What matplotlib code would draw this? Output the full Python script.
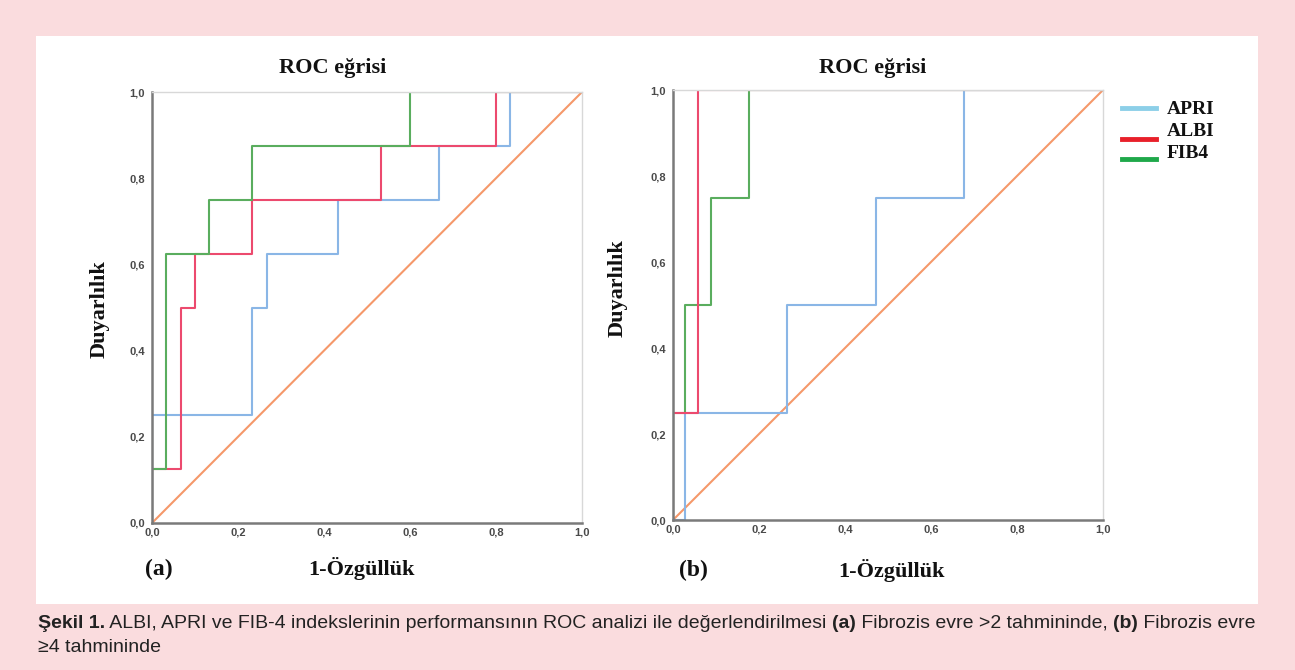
import matplotlib
matplotlib.use('Agg')
import matplotlib.pyplot as plt
from matplotlib.patches import Rectangle
from matplotlib.lines import Line2D

# ROC curve corner points (1-specificity, sensitivity)
# (a) Fibrozis evre >2
apri_a_x = [0, 0, 0.233, 0.233, 0.267, 0.267, 0.433, 0.433, 0.667, 0.667, 0.833, 0.833, 1]
apri_a_y = [0, 0.25, 0.25, 0.5, 0.5, 0.625, 0.625, 0.75, 0.75, 0.875, 0.875, 1, 1]
albi_a_x = [0, 0, 0.067, 0.067, 0.1, 0.1, 0.233, 0.233, 0.533, 0.533, 0.8, 0.8, 1]
albi_a_y = [0, 0.125, 0.125, 0.5, 0.5, 0.625, 0.625, 0.75, 0.75, 0.875, 0.875, 1, 1]
fib4_a_x = [0, 0, 0.033, 0.033, 0.133, 0.133, 0.233, 0.233, 0.6, 0.6, 1]
fib4_a_y = [0, 0.125, 0.125, 0.625, 0.625, 0.75, 0.75, 0.875, 0.875, 1, 1]

# (b) Fibrozis evre >=4
apri_b_x = [0, 0.029, 0.029, 0.265, 0.265, 0.471, 0.471, 0.676, 0.676, 1]
apri_b_y = [0, 0, 0.25, 0.25, 0.5, 0.5, 0.75, 0.75, 1, 1]
albi_b_x = [0, 0, 0.059, 0.059, 1]
albi_b_y = [0, 0.25, 0.25, 1, 1]
fib4_b_x = [0, 0, 0.029, 0.029, 0.088, 0.088, 0.176, 0.176, 1]
fib4_b_y = [0, 0.25, 0.25, 0.5, 0.5, 0.75, 0.75, 1, 1]

ticks = [0, 0.2, 0.4, 0.6, 0.8, 1.0]
tick_labels = ['0,0', '0,2', '0,4', '0,6', '0,8', '1,0']

c_apri = '#8ab6e6'
c_albi = '#ec4a6e'
c_fib4 = '#5aad5e'
c_ref = '#f5986a'

W, H = 1295, 670
fig = plt.figure(figsize=(W / 100, H / 100), dpi=100, facecolor='#fadcde')
fig.patches.append(Rectangle((36 / W, 1 - 604 / H), (1258 - 36) / W, (604 - 36) / H,
                             transform=fig.transFigure, facecolor='white',
                             edgecolor='none', zorder=-5))


def px(x, y):
    return x / W, 1 - y / H


def roc_panel(rect, curves):
    ax = fig.add_axes(rect)
    ax.set_zorder(2)
    ax.plot([0, 1], [0, 1], color=c_ref, lw=1.5, zorder=1)
    for xs, ys, col in curves:
        ax.plot(xs, ys, color=col, lw=1.5, zorder=2)
    ax.set_xlim(0, 1)
    ax.set_ylim(0, 1)
    ax.set_xticks(ticks)
    ax.set_yticks(ticks)
    ax.set_xticklabels(tick_labels)
    ax.set_yticklabels(tick_labels)
    ax.tick_params(length=0, labelsize=8, labelcolor='#4a4a4a')
    ax.tick_params(axis='y', pad=5)
    ax.tick_params(axis='x', pad=3)
    for lab in ax.get_xticklabels() + ax.get_yticklabels():
        lab.set_fontfamily('Liberation Sans')
        lab.set_fontweight('bold')
    for s in ['left', 'bottom']:
        ax.spines[s].set_color('#7a7a7a')
        ax.spines[s].set_linewidth(1.8)
    for s in ['top', 'right']:
        ax.spines[s].set_color('#d8d8d8')
        ax.spines[s].set_linewidth(1.0)
    return ax


ax_a = roc_panel([152 / W, 1 - 523 / H, 430 / W, 431 / H],
                 [(apri_a_x, apri_a_y, c_apri), (albi_a_x, albi_a_y, c_albi),
                  (fib4_a_x, fib4_a_y, c_fib4)])
ax_b = roc_panel([673 / W, 1 - 520 / H, 430 / W, 430 / H],
                 [(apri_b_x, apri_b_y, c_apri), (fib4_b_x, fib4_b_y, c_fib4),
                  (albi_b_x, albi_b_y, c_albi)])

serif = dict(family='Liberation Serif', weight='bold', color='#111111')
fig.text(*px(333, 68), 'ROC eğrisi', ha='center', va='center', fontsize=16, **serif)
fig.text(*px(873, 68), 'ROC eğrisi', ha='center', va='center', fontsize=16, **serif)
fig.text(*px(100, 309), 'Duyarlılık', ha='center', va='center', rotation=90, fontsize=16, **serif)
fig.text(*px(618, 288), 'Duyarlılık', ha='center', va='center', rotation=90, fontsize=16, **serif)
fig.text(*px(362, 569), '1-Özgüllük', ha='center', va='center', fontsize=16, **serif)
fig.text(*px(892, 570), '1-Özgüllük', ha='center', va='center', fontsize=16, **serif)
fig.text(*px(159, 569), '(a)', ha='center', va='center', fontsize=17, **serif)
fig.text(*px(693, 570), '(b)', ha='center', va='center', fontsize=17, **serif)

# legend on the right
leg_names = ['APRI', 'ALBI', 'FIB4']
leg_colors = ['#8ccfe8', '#e8202a', '#1fa84a']
leg_line_y = [108, 139, 159]
leg_text_y = [109, 131, 153]
for name, col, ly, ty in zip(leg_names, leg_colors, leg_line_y, leg_text_y):
    fig.add_artist(Line2D([1122 / W, 1156 / W], [1 - ly / H, 1 - ly / H],
                          transform=fig.transFigure, color=col, lw=3.5))
    fig.text(*px(1167, ty), name, ha='left', va='center', fontsize=14, **serif)

# caption with mixed bold / regular pieces
line1 = [('Şekil 1.', 'bold'),
         (' ALBI, APRI ve FIB-4 indekslerinin performansının ROC analizi ile değerlendirilmesi ', 'normal'),
         ('(a)', 'bold'), (' Fibrozis evre >2 tahmininde, ', 'normal'),
         ('(b)', 'bold'), (' Fibrozis evre', 'normal')]
line2 = [('≥4 tahmininde', 'normal')]

renderer = fig.canvas.get_renderer()


def draw_line(pieces, x0, y0, size):
    x = x0
    arts = []
    for txt, wt in pieces:
        t = fig.text(x / W, 1 - y0 / H, txt, ha='left', va='baseline', fontsize=size,
                     family=['Liberation Sans', 'DejaVu Sans'], weight=wt,
                     color='#222222')
        bb = t.get_window_extent(renderer)
        x += bb.width
        arts.append(t)
    return x, arts


size = 11
for _ in range(3):
    end, arts = draw_line(line1, 38, 628, size)
    for a in arts:
        a.remove()
    size = size * (1259 - 38) / (end - 38)
draw_line(line1, 38, 628, size)
draw_line(line2, 38, 652, size)

fig.savefig('out.png', dpi=100, facecolor=fig.get_facecolor())
